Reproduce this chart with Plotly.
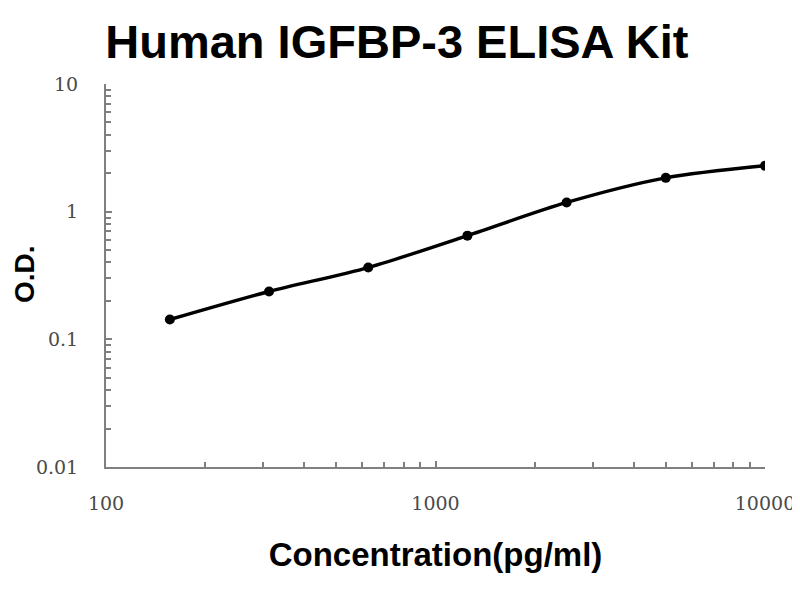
import plotly.graph_objects as go

concentration = [156.25, 312.5, 625, 1250, 2500, 5000, 10000]
od_values = [0.143, 0.237, 0.365, 0.649, 1.18, 1.84, 2.29]

title_text = "Human IGFBP-3 ELISA Kit"
x_title = "Concentration(pg/ml)"
y_title = "O.D."

fig = go.Figure()
fig.add_trace(go.Scatter(
    x=concentration, y=od_values,
    mode="lines+markers",
    line=dict(color="black", width=3.4, shape="spline", smoothing=0.8),
    marker=dict(color="black", size=10),
    showlegend=False,
))

tick_font = dict(family="DejaVu Serif", size=19, color="#4a4a4a")
axis_title_font = dict(family="Liberation Sans", size=33, color="black")
y_title_font = dict(family="Liberation Sans", size=28, color="black")

# page body has an 8px margin, so the figure is sized to fit the 800x600 window
fig.update_layout(
    width=792, height=592,
    paper_bgcolor="white", plot_bgcolor="white",
    margin=dict(l=98, r=35, t=76, b=133, autoexpand=False),
    title=dict(text="<b>" + title_text + "</b>", x=0.491, xanchor="center",
               y=0.943, yanchor="middle",
               font=dict(family="Liberation Sans", size=47, color="black")),
    annotations=[dict(
        text="<b>" + y_title + "</b>", xref="paper", yref="paper",
        x=-0.1235, y=0.503, xanchor="center", yanchor="middle",
        textangle=-90, showarrow=False, font=y_title_font,
    )],
)
fig.update_xaxes(
    type="log", range=[2, 4], dtick=1, tickformat="d", automargin=False,
    showline=True, linecolor="#808080", linewidth=2,
    showgrid=False, zeroline=False,
    ticks="inside", ticklen=6, tickcolor="#808080", tickwidth=1.5,
    minor=dict(ticks="inside", ticklen=5, tickcolor="#808080", dtick="D1", showgrid=False),
    tickfont=tick_font, ticklabelstandoff=18,
    title=dict(text="<b>" + x_title + "</b>", font=axis_title_font, standoff=30),
)
fig.update_yaxes(
    type="log", range=[-2, 1], dtick=1, automargin=False,
    showline=True, linecolor="#808080", linewidth=2,
    showgrid=False, zeroline=False,
    ticks="inside", ticklen=6, tickcolor="#808080", tickwidth=1.5,
    minor=dict(ticks="inside", ticklen=5, tickcolor="#808080", dtick="D1", showgrid=False),
    tickfont=tick_font, ticklabelstandoff=22,
)

fig.write_html("out.html")
